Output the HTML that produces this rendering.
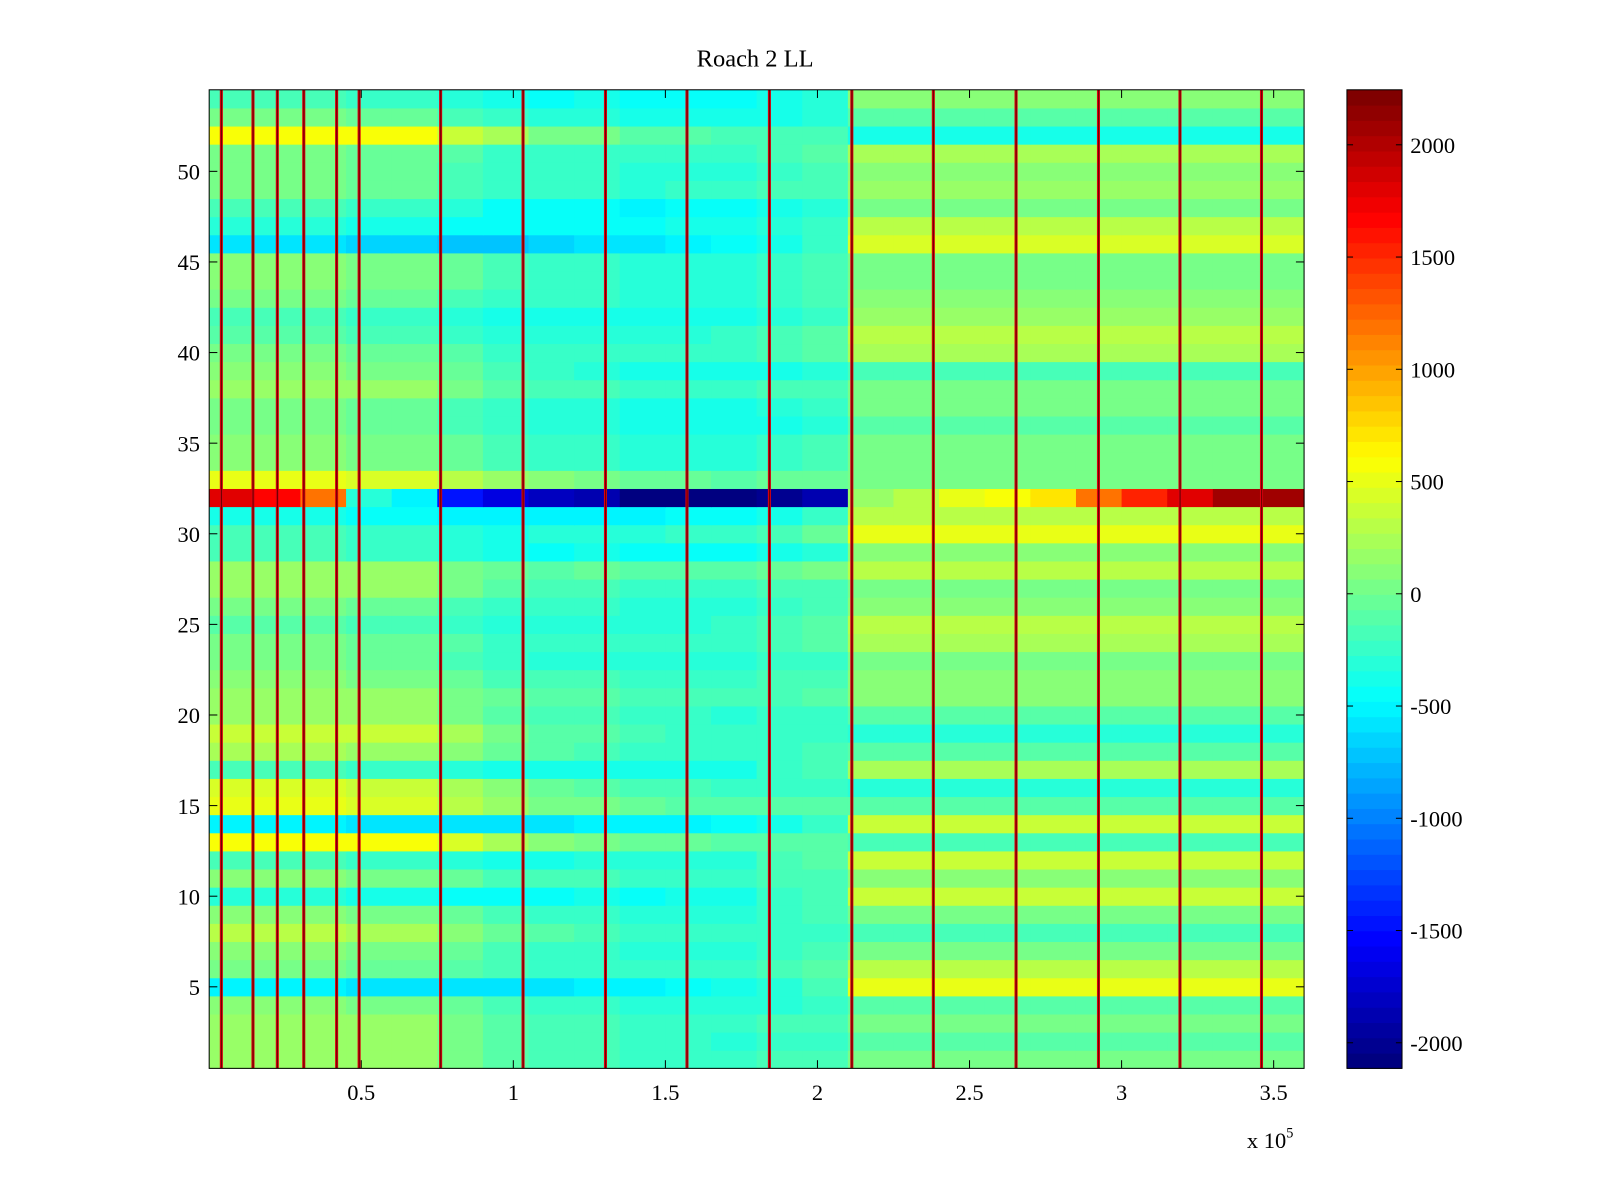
<!DOCTYPE html>
<html><head><meta charset="utf-8"><style>
body{margin:0;background:#fff;}
svg{display:block;font-family:"Liberation Serif",serif;}
</style></head><body>
<svg id="chart" width="1600" height="1200" viewBox="0 0 1600 1200">
<rect width="1600" height="1200" fill="#fff"/>
<g transform="scale(1.0204)">
<text x="740" y="65" font-size="24" text-anchor="middle">Roach 2 LL</text>
<g id="cells"></g>
<g id="vlines"></g>
<rect x="205" y="88" width="1073" height="959" fill="none" stroke="#000" stroke-width="1"/>
<g id="axes"></g>
<g id="cbar"></g>
<text x="1222" y="1125" font-size="22">x 10<tspan dy="-10" font-size="14">5</tspan></text>
</g>
</svg>
<script>
// data (rows listed bottom row 1 .. top row 54)
const rowLeft=[200,200,200,100,-500,0,100,300,100,-300,100,-200,600,-500,500,450,-200,250,400,200,200,100,0,0,-100,0,200,200,-200,-200,-400,0,500,100,100,0,0,200,100,0,-100,-200,0,100,100,-600,-300,-200,0,0,0,600,0,-200];
const rowRight=[0,-100,0,-100,500,300,0,-200,0,350,100,400,-200,400,-100,-300,250,-100,-300,-100,100,100,50,250,300,100,0,300,100,500,300,0,0,0,0,-100,0,0,-200,250,300,200,100,0,0,450,300,0,200,100,250,-350,-100,100];
const colWeight=[0,0,0,0,0,0.05,0.15,0.25,0.3,0.35,0.4,0.45,0.5,0.55,1,1,1,1,1,1,1,1,1,1];
const colOffset=[0,0,0,-50,-50,-150,-250,-300,-300,-350,-350,-350,-300,-250,0,0,0,0,0,0,0,0,0,0];
const row32Values=[1800,1700,1200,-300,-500,-1500,-1700,-1800,-1900,-2050,-2050,-2050,-2000,-1900,200,300,500,600,700,1200,1500,1800,2050,2100];
const lineXs=[4000,14400,22400,31100,41900,49300,76100,103200,130300,157100,184200,211300,238100,265300,292400,319200,346000];
const xTicks=[0.5,1,1.5,2,2.5,3,3.5];
const yTicks=[5,10,15,20,25,30,35,40,45,50];
const cbTicks=[2000,1500,1000,500,0,-500,-1000,-1500,-2000];
const X0=205,X1=1278,Y0=88,Y1=1047;
const xMin=0,xMax=360000,yMin=0.5,yMax=54.5,cMin=-2114,cMax=2245;
const xs=v=>X0+(v-xMin)/(xMax-xMin)*(X1-X0);
const ys=v=>Y1-(v-yMin)/(yMax-yMin)*(Y1-Y0);
function jet(t){t=Math.max(0,Math.min(1,t));t=Math.floor(t*63.999)/63;
 const f=x=>Math.round(255*Math.max(0,Math.min(1,x)));
 return `rgb(${f(1.5-Math.abs(4*t-3))},${f(1.5-Math.abs(4*t-2))},${f(1.5-Math.abs(4*t-1))})`;}
const cv=v=>jet((v-cMin)/(cMax-cMin));
const NS="http://www.w3.org/2000/svg";
function mk(tag,attrs,parent){const e=document.createElementNS(NS,tag);for(const k in attrs)e.setAttribute(k,attrs[k]);parent.appendChild(e);return e;}
const cells=document.getElementById('cells');
const binW=(xMax-xMin)/colWeight.length;
for(let r=0;r<rowLeft.length;r++){
 for(let c=0;c<colWeight.length;c++){
  const w=colWeight[c];
  const val=(r===31)?row32Values[c]:rowLeft[r]*(1-w)+rowRight[r]*w+colOffset[c];
  const x=xs(xMin+c*binW),x2=xs(xMin+(c+1)*binW);
  const e=mk('rect',{x:x,y:ys(r+1.5),width:x2-x+0.5,height:ys(r+0.5)-ys(r+1.5)+0.5,fill:cv(val)},cells);
  
  
 }
}
const vl=document.getElementById('vlines');
lineXs.forEach(v=>{
 const e=mk('rect',{x:xs(v)-1.5,y:Y0,width:3,height:Y1-Y0,fill:'#e00010'},vl);
 
 
 const c=mk('rect',{x:xs(v)-0.5,y:Y0,width:1.2,height:Y1-Y0,fill:'#700000'},vl);
 
 
});
const ax=document.getElementById('axes');
xTicks.forEach(t=>{const x=xs(t*1e5);
 mk('line',{x1:x,x2:x,y1:Y1,y2:Y1-8,stroke:'#000'},ax);mk('line',{x1:x,x2:x,y1:Y0,y2:Y0+8,stroke:'#000'},ax);
 const e=mk('text',{x:x,y:1078,'font-size':22,'text-anchor':'middle'},ax);e.textContent=t;
 
 });
yTicks.forEach(t=>{const y=ys(t);
 mk('line',{x1:X0,x2:X0+8,y1:y,y2:y,stroke:'#000'},ax);mk('line',{x1:X1,x2:X1-8,y1:y,y2:y,stroke:'#000'},ax);
 const e=mk('text',{x:196,y:y+8,'font-size':22,'text-anchor':'end'},ax);e.textContent=t;
 
 });
const cb=document.getElementById('cbar');
const CX=1320,CW=54;
for(let i=0;i<64;i++){const y0=Y1-(i+1)*(Y1-Y0)/64;
 mk('rect',{x:CX,y:y0,width:CW,height:(Y1-Y0)/64+0.5,fill:jet(i/63)},cb);}
mk('rect',{x:CX,y:Y0,width:CW,height:Y1-Y0,fill:'none',stroke:'#000'},cb);
const cs=v=>Y1-(v-cMin)/(cMax-cMin)*(Y1-Y0);
cbTicks.forEach(t=>{const y=cs(t);
 mk('line',{x1:CX,x2:CX+6,y1:y,y2:y,stroke:'#000'},cb);mk('line',{x1:CX+CW,x2:CX+CW-6,y1:y,y2:y,stroke:'#000'},cb);
 const e=mk('text',{x:1382,y:y+8,'font-size':22},cb);e.textContent=t;
 
 });
</script>
</body></html>
